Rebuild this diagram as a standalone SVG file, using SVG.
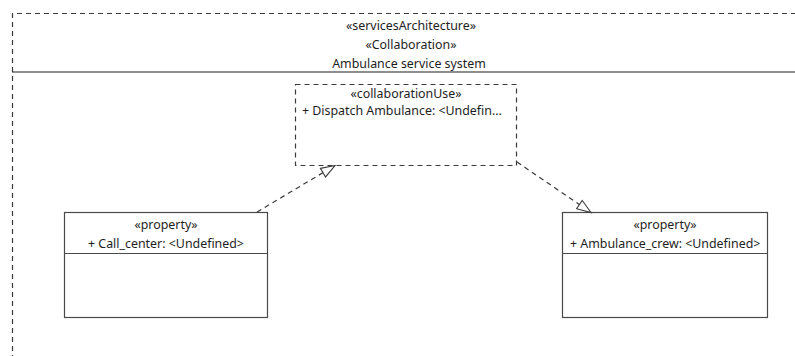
<svg xmlns="http://www.w3.org/2000/svg" width="795" height="356" viewBox="0 0 795 356">
  <style>
    text { font-family: "Noto Sans", "Open Sans", "DejaVu Sans", sans-serif; font-size: 12.4px; fill: #1e1e1e; }
    .c { text-anchor: middle; }
    .box { fill: #ffffff; stroke: #4a4a4a; stroke-width: 1.2; }
    .dash { fill: none; stroke: #3a3a3a; stroke-width: 1.2; stroke-dasharray: 5 4; }
    .sep { stroke: #4a4a4a; stroke-width: 1.2; }
    .edge { fill: none; stroke: #3a3a3a; stroke-width: 1.2; stroke-dasharray: 5 4; }
  </style>
  <defs>
    <marker id="hollow" markerWidth="18" markerHeight="14" refX="15" refY="6" orient="auto" markerUnits="userSpaceOnUse">
      <path d="M1,1 L15,6 L1,11 Z" fill="#ffffff" stroke="#3a3a3a" stroke-width="1.1"/>
    </marker>
    <clipPath id="crewClip">
      <rect x="562" y="212" width="206" height="106"/>
    </clipPath>
  </defs>

  <rect width="795" height="356" fill="#ffffff"/>

  <!-- collaboration frame -->
  <g id="frame">
    <path class="dash" d="M12.5,360 V13.5 H800"/>
    <line x1="12" y1="72" x2="795" y2="72" stroke="#1e1e1e" stroke-width="1.2"/>
    <text class="c" x="411" y="30">«servicesArchitecture»</text>
    <text class="c" x="411" y="49">«Collaboration»</text>
    <text class="c" x="409" y="68">Ambulance service system</text>
  </g>

  <!-- collaboration use -->
  <g id="dispatch">
    <rect class="dash" x="295.5" y="84.5" width="221" height="81"/>
    <text class="c" x="406" y="98">«collaborationUse»</text>
    <text x="302" y="115">+ Dispatch Ambulance: &lt;Undefin...</text>
  </g>

  <!-- roles -->
  <g id="call_center">
    <rect class="box" x="64.5" y="212.5" width="203" height="105"/>
    <line class="sep" x1="64.5" y1="253.5" x2="267.5" y2="253.5"/>
    <text class="c" x="166" y="229">«property»</text>
    <text class="c" x="166" y="248">+ Call_center: &lt;Undefined&gt;</text>
  </g>

  <g id="ambulance_crew">
    <rect class="box" x="562.5" y="212.5" width="205" height="105"/>
    <line class="sep" x1="562.5" y1="253.5" x2="767.5" y2="253.5"/>
    <text class="c" x="665" y="229">«property»</text>
    <g clip-path="url(#crewClip)">
      <text x="570" y="248">+ Ambulance_crew: &lt;Undefined&gt;</text>
    </g>
  </g>

  <!-- role bindings -->
  <g id="connectors">
    <line class="edge" x1="257" y1="212" x2="335" y2="165.5" marker-end="url(#hollow)"/>
    <line class="edge" x1="517" y1="162" x2="591" y2="212.5" marker-end="url(#hollow)"/>
  </g>
</svg>
